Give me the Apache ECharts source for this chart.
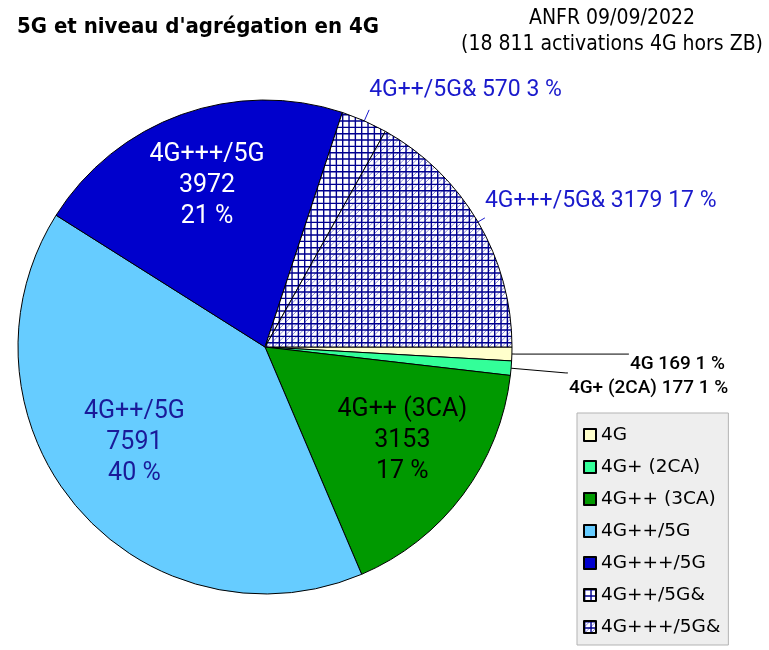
<!DOCTYPE html>
<html lang="fr">
<head>
<meta charset="UTF-8">
<title>5G et niveau d'agrégation en 4G</title>
<script src="https://cdn.jsdelivr.net/npm/echarts@6/dist/echarts.min.js"></script>
<style>html,body{margin:0;padding:0;background:#fff}</style>
</head>
<body>
<div id="main" style="width:769px;height:650px"></div>
<script>
    // données ANFR 09/09/2022
    var categories = ['4G', '4G+ (2CA)', '4G++ (3CA)', '4G++/5G', '4G+++/5G', '4G++/5G&', '4G+++/5G&'];
    var activations = [169, 177, 3153, 7591, 3972, 570, 3179];
    var chartTitle = "5G et niveau d'agrégation en 4G";
    var sourceNote = ['ANFR 09/09/2022', '(18 811 activations 4G hors ZB)'];

    // motif quadrillé (avec ou sans diagonales), 3 cases par tuile
    function hatch(withDiagonal) {
        var n = 19, step = n / 3;
        var c = document.createElement('canvas');
        c.width = n;
        c.height = n;
        var g = c.getContext('2d');
        g.fillStyle = '#ffffff';
        g.fillRect(0, 0, n, n);
        if (withDiagonal) {
            g.strokeStyle = '#8c8cd9';
            g.lineWidth = 1;
            g.beginPath();
            for (var k = 0; k <= 6; k++) {
                g.moveTo(0, k * step);
                g.lineTo(k * step, 0);
            }
            g.stroke();
        }
        g.strokeStyle = '#00008f';
        g.lineWidth = 1.4;
        g.beginPath();
        for (var j = 0; j < 3; j++) {
            var p = j * step + 0.7;
            g.moveTo(p, 0); g.lineTo(p, n);
            g.moveTo(0, p); g.lineTo(n, p);
        }
        g.stroke();
        return {image: c, repeat: 'repeat'};
    }

    var fills = ['#ffffcc', '#33ff99', '#009900', '#66ccff', '#0000cc', hatch(false), hatch(true)];

    // espaceurs pour décaler le texte des étiquettes
    var spacers = {
        s18: {lineHeight: 18, fontSize: 1}, s20: {lineHeight: 20, fontSize: 1},
        s30: {lineHeight: 30, fontSize: 1}, s34: {lineHeight: 34, fontSize: 1},
        s40: {lineHeight: 40, fontSize: 1}
    };

    function blackOut(pad) {
        return {
            show: true, position: 'outside', formatter: '{' + pad + '| }\n{b} {c} {d} %',
            distanceToLabelLine: 1,
            color: '#000', fontFamily: 'Roboto', fontSize: 19, fontWeight: 500, rich: spacers
        };
    }
    function blueOut(pad) {
        return {
            show: true, position: 'outside', formatter: '{b} {c} {d} %\n{' + pad + '| }',
            distanceToLabelLine: 0,
            color: '#1a1acc', fontFamily: 'Roboto', fontSize: 23, rich: spacers
        };
    }
    var outsideLabels = [blackOut('s20'), blackOut('s30'), null, null, null, blueOut('s40'), blueOut('s34')];
    var outsideLines = [
        {show: true, length: 4, length2: 113, lineStyle: {color: '#000', width: 1}},
        {show: true, length: 55, length2: 2, lineStyle: {color: '#000', width: 1}},
        null, null, null,
        {show: true, length: 12, length2: 0, lineStyle: {color: '#1a1acc', width: 1}},
        {show: true, length: 8, length2: 0, lineStyle: {color: '#1a1acc', width: 1}}
    ];
    var insideColors = [null, null, '#000000', '#1a1a99', '#ffffff', null, null];
    var insideTail = [null, null, '\n{s18| }', '\n{s30| }', '', null, null];

    var sliceData = [], labelData = [];
    for (var i = 0; i < categories.length; i++) {
        var item = {
            name: categories[i],
            value: activations[i],
            itemStyle: {color: fills[i]}
        };
        if (outsideLabels[i]) {
            item.label = outsideLabels[i];
            item.labelLine = outsideLines[i];
        }
        sliceData.push(item);
        labelData.push({
            name: categories[i],
            value: activations[i],
            label: insideColors[i] ? {
                show: true,
                color: insideColors[i],
                formatter: '{b}\n{c}\n{d} %' + insideTail[i]
            } : {show: false}
        });
    }

    var myChart = echarts.init(document.getElementById('main'));
    var option = {
        animation: false,
        title: [
            {
                text: chartTitle,
                left: 17, top: 15, padding: 0,
                textStyle: {fontFamily: 'DejaVu Sans Condensed', fontWeight: 'bold', fontSize: 22, lineHeight: 24, color: '#000'}
            },
            {
                text: sourceNote.join('\n'),
                left: 612, top: 6, padding: 0, textAlign: 'center',
                textStyle: {fontFamily: 'DejaVu Sans Condensed', fontWeight: 'normal', fontSize: 21, lineHeight: 26, color: '#000'}
            }
        ],
        legend: {
            orient: 'vertical',
            left: 577, top: 413,
            padding: [12, 8, 8, 6],
            backgroundColor: '#eeeeee',
            borderColor: '#b3b3b3',
            borderWidth: 1,
            borderRadius: 0,
            icon: 'rect',
            itemWidth: 12, itemHeight: 12, itemGap: 12,
            selectedMode: false,
            data: categories,
            textStyle: {fontFamily: 'DejaVu Sans', fontSize: 18.5, lineHeight: 20, color: '#000'}
        },
        series: [
            {
                name: 'activations',
                type: 'pie',
                center: [265, 347],
                radius: 247,
                startAngle: 0,
                clockwise: true,
                percentPrecision: 0,
                avoidLabelOverlap: false,
                labelLayout: {hideOverlap: false},
                itemStyle: {borderColor: '#000', borderWidth: 1},
                label: {show: false},
                labelLine: {show: false},
                emphasis: {disabled: true},
                data: sliceData
            },
            {
                name: 'étiquettes',
                type: 'pie',
                center: [265, 347],
                radius: [90, 247],
                startAngle: 0,
                clockwise: true,
                percentPrecision: 0,
                silent: true,
                itemStyle: {color: 'rgba(0,0,0,0)', borderWidth: 0},
                label: {
                    position: 'inside',
                    fontFamily: 'Roboto', fontSize: 25, lineHeight: 31,
                    rich: spacers
                },
                labelLine: {show: false},
                emphasis: {disabled: true},
                data: labelData
            }
        ]
    };
    myChart.setOption(option);
</script>
</body>
</html>
